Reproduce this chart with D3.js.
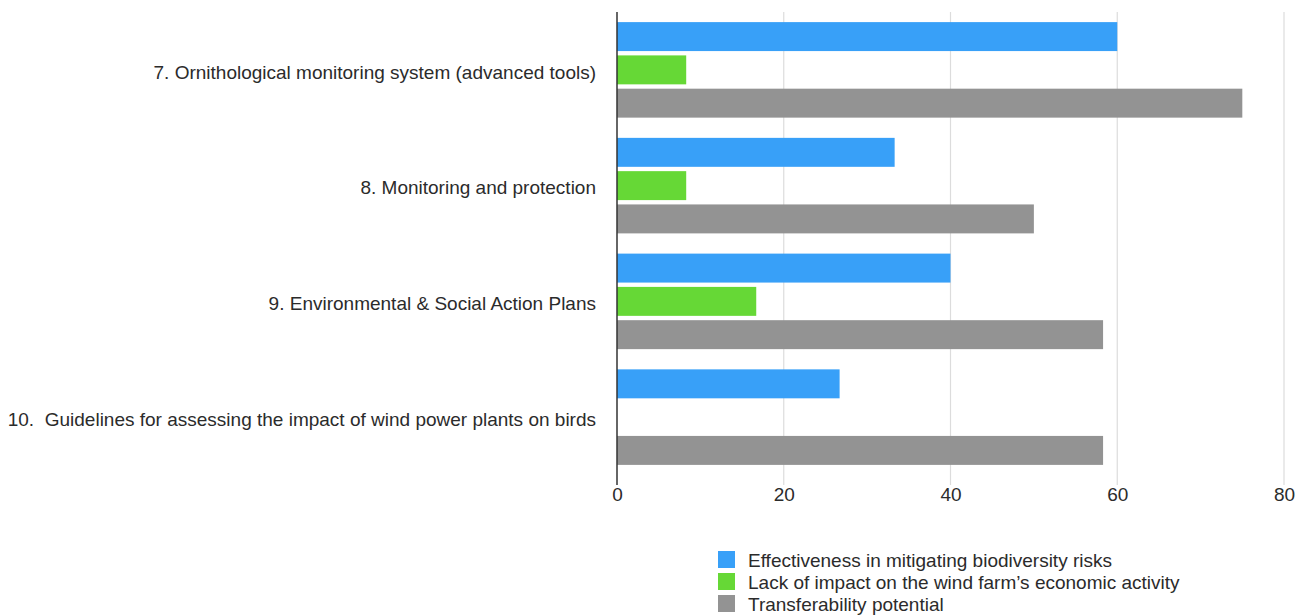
<!DOCTYPE html>
<html>
<head>
<meta charset="utf-8">
<script src="https://cdn.jsdelivr.net/npm/d3@7"></script>
<style>
  body { margin: 0; background: #fff; }
  text { font-family: "Liberation Sans", Arial, sans-serif; fill: #2b2b2b; white-space: pre; }
</style>
</head>
<body>
<svg id="chart" width="1301" height="615"></svg>
<script>
// Measures rated per criterion (share of responses, %)
const categories = [
  "7. Ornithological monitoring system (advanced tools)",
  "8. Monitoring and protection",
  "9. Environmental & Social Action Plans",
  "10.  Guidelines for assessing the impact of wind power plants on birds"
];
const seriesNames = [
  "Effectiveness in mitigating biodiversity risks",
  "Lack of impact on the wind farm\u2019s economic activity",
  "Transferability potential"
];
const effectiveness = [60, 33.3, 40, 26.7];
const lackOfImpact = [8.3, 8.3, 16.7, 0];
const transferability = [75, 50, 58.3, 58.3];
const xTicks = [0, 20, 40, 60, 80];
const colors = ["#38a0f8", "#66d836", "#939393"];

const seriesValues = [effectiveness, lackOfImpact, transferability];

const svg = d3.select("#chart");
const plotLeft = 617, plotRight = 1284, plotTop = 12, plotBottom = 475;
const fontSize = 19;

const x = d3.scaleLinear().domain([0, 80]).range([plotLeft, plotRight]);
const y0 = d3.scaleBand().domain(categories).range([plotTop, plotBottom]).paddingInner(0.1).paddingOuter(0.05);
const y1 = d3.scaleBand().domain(d3.range(3)).range([0, y0.bandwidth()]).padding(0.13);

// vertical grid lines
svg.append("g")
  .selectAll("line")
  .data(xTicks.filter(d => d > 0))
  .join("line")
  .attr("x1", d => x(d)).attr("x2", d => x(d))
  .attr("y1", plotTop).attr("y2", plotBottom + 10)
  .attr("stroke", "#dcdcdc").attr("stroke-width", 1.2);

// bars
const groups = svg.append("g")
  .selectAll("g")
  .data(categories)
  .join("g")
  .attr("transform", d => `translate(0,${y0(d)})`);

groups.selectAll("rect")
  .data((d, i) => seriesValues.map((vals, s) => ({ s, v: vals[i] })))
  .join("rect")
  .attr("x", x(0))
  .attr("y", d => y1(d.s))
  .attr("width", d => x(d.v) - x(0))
  .attr("height", y1.bandwidth())
  .attr("fill", d => colors[d.s]);

// category labels
svg.append("g")
  .selectAll("text")
  .data(categories)
  .join("text")
  .attr("x", 596)
  .attr("y", d => y0(d) + y1(1) + y1.bandwidth() / 2 + 2)
  .attr("dy", "0.35em")
  .attr("text-anchor", "end")
  .attr("font-size", fontSize)
  .text(d => d);

// value axis
const xAxis = d3.axisBottom(x).tickValues(xTicks).tickSize(0).tickPadding(13);
const ax = svg.append("g").attr("transform", `translate(0,${plotBottom})`).call(xAxis);
ax.select(".domain").remove();
ax.selectAll("text").attr("font-size", fontSize).style("font-family", "Liberation Sans, Arial, sans-serif").attr("fill", "#2b2b2b");

// zero line
svg.append("line")
  .attr("x1", x(0)).attr("x2", x(0))
  .attr("y1", plotTop).attr("y2", plotBottom + 10)
  .attr("stroke", "#333").attr("stroke-width", 1.5);

// legend
const legend = svg.append("g").attr("transform", "translate(718,551)");
const item = legend.selectAll("g")
  .data(seriesNames)
  .join("g")
  .attr("transform", (d, i) => `translate(0,${i * 22})`);
item.append("rect").attr("width", 17).attr("height", 17).attr("fill", (d, i) => colors[i]);
item.append("text").attr("x", 30).attr("y", 9).attr("dy", "0.35em").attr("font-size", fontSize).text(d => d);
</script>
</body>
</html>
